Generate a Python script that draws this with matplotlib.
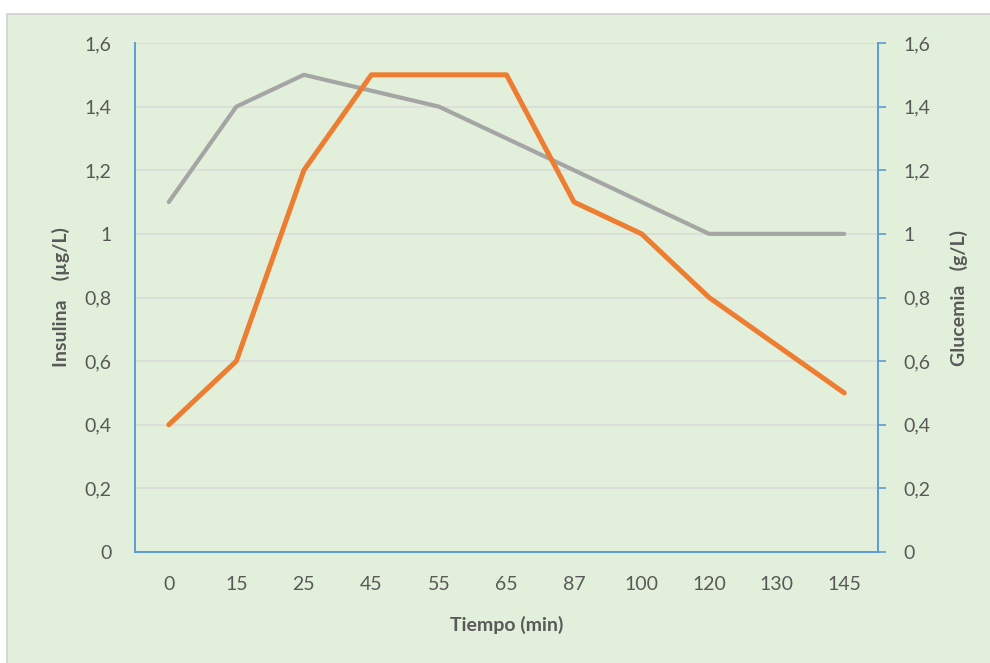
import matplotlib.pyplot as plt
from matplotlib.patches import Rectangle
from matplotlib.ticker import FuncFormatter, MultipleLocator

tiempo = ["0", "15", "25", "45", "55", "65", "87", "100", "120", "130", "145"]
insulina = [1.1, 1.4, 1.5, 1.45, 1.4, 1.3, 1.2, 1.1, 1.0, 1.0, 1.0]
glucemia = [0.4, 0.6, 1.2, 1.5, 1.5, 1.5, 1.1, 1.0, 0.8, 0.65, 0.5]

BG = "#E2EFDA"
SPINE = "#5B9BD5"
TXT = "#595959"
FONT = ["Lato", "DejaVu Sans"]
FS = 14


def comma(v, _pos):
    s = f"{v:.1f}".rstrip("0").rstrip(".")
    return s.replace(".", ",")


fig = plt.figure(figsize=(9.9, 6.63), dpi=100, facecolor="white")
fig.patches.append(Rectangle((7 / 990, -0.01), 1.1, 1.01 - 14 / 663, transform=fig.transFigure,
                             facecolor=BG, edgecolor="#D0D0D0", linewidth=1.2, zorder=-10))

ax = fig.add_axes((135 / 990, 1 - 552 / 663, 743 / 990, 509 / 663))
ax.set_facecolor("none")
ax2 = ax.twinx()
ax2.set_facecolor("none")

x = list(range(len(tiempo)))
ax.plot(x, insulina, color="#A5A5A5", linewidth=3.0, solid_capstyle="round", zorder=3)
ax2.plot(x, glucemia, color="#ED7D31", linewidth=3.6, solid_capstyle="round", zorder=3)

for a in (ax, ax2):
    a.set_ylim(0, 1.6)
    a.yaxis.set_major_locator(MultipleLocator(0.2))
    a.yaxis.set_major_formatter(FuncFormatter(comma))
    a.set_xlim(-0.5, len(tiempo) - 0.5)
    a.spines["top"].set_visible(False)
    for side in ("left", "right", "bottom"):
        a.spines[side].set_color(SPINE)
        a.spines[side].set_linewidth(1.2)

ax.set_xticks(x)
ax.set_xticklabels(tiempo)
ax.grid(axis="y", color="#D9D9D9", linewidth=1.1, zorder=0)
ax.set_axisbelow(True)

ax.tick_params(axis="y", length=0, pad=17, labelsize=FS, labelcolor=TXT)
ax.tick_params(axis="x", length=0, pad=17, labelsize=FS, labelcolor=TXT)
ax2.tick_params(axis="y", direction="out", length=6, width=1.2, color=SPINE,
                pad=12, labelsize=FS, labelcolor=TXT)
for lbl in ax.get_xticklabels() + ax.get_yticklabels() + ax2.get_yticklabels():
    lbl.set_family(FONT)

ax.set_ylabel("Insulina    (µg/L)", family=FONT, fontsize=FS, fontweight="bold",
              color=TXT, labelpad=10)
ax2.set_ylabel("Glucemia   (g/L)", family=FONT, fontsize=FS, fontweight="bold",
               color=TXT, labelpad=14, rotation=90)
ax.set_xlabel("Tiempo (min)", family=FONT, fontsize=FS, fontweight="bold",
              color=TXT, labelpad=17)

fig.savefig("out.png", dpi=100, facecolor=fig.get_facecolor())
